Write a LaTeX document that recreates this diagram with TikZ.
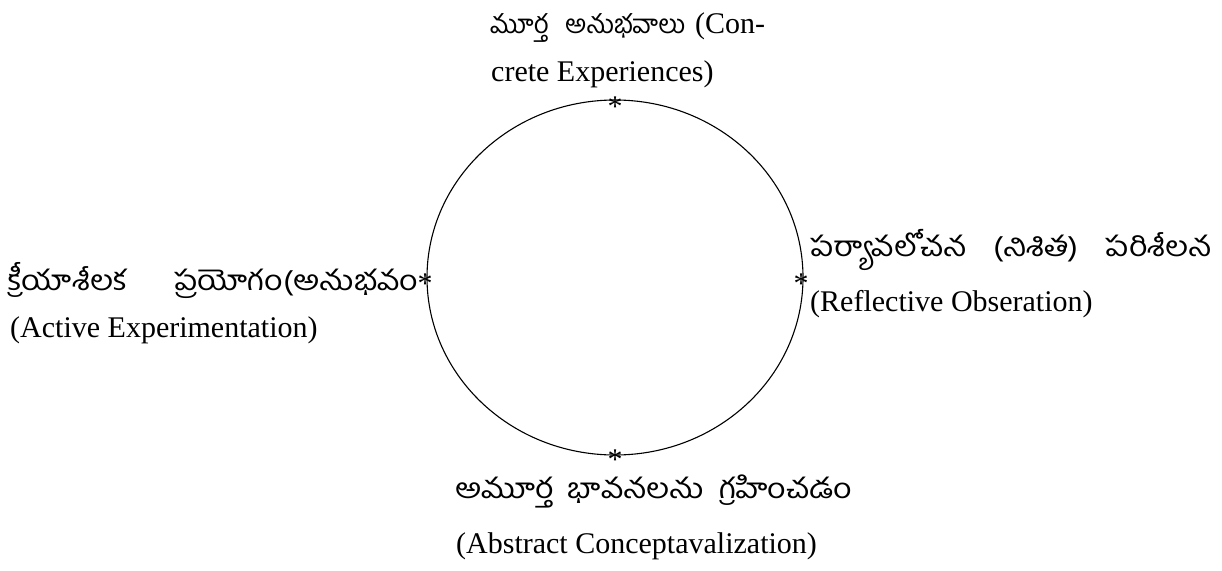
\documentclass[tikz,border=0pt]{standalone}
\usepackage{fontspec}
\setmainfont{Liberation Serif}
\newfontfamily\te[Script=Telugu]{Hind Guntur}
\newfontfamily\tew[Script=Telugu,FakeStretch=1.15]{Hind Guntur}
\begin{document}
\begin{tikzpicture}[x=1pt,y=1pt,
  lat/.style={font=\fontsize{30}{36}\selectfont, inner sep=0pt, anchor=base west},
  tel/.style={font=\fontsize{28}{34}\selectfont\tew, inner sep=0pt, anchor=base west},
  star/.style={font=\fontsize{30}{36}\selectfont, inner sep=0pt}]
\useasboundingbox (0,0) rectangle (1222,-570);
\coordinate (c) at (615,-277.5);
\draw[line width=1.1pt] (c) ellipse [x radius=188, y radius=177.5];
% asterisks on the cycle
\node[star] (sT) at (615,-107) {*};
\node[star] (sR) at (801,-284) {*};
\node[star] (sB) at (615,-460) {*};
\node[star] (sL) at (425,-284) {*};
% top label
\node[lat] (t1) at (490,-33) {\makebox[195pt][s]{\te\fontsize{26}{32}\selectfont మూర్త అనుభవాలు}\hspace{10pt}(Con-};
\node[lat] (t2) at (491,-81) {crete Experiences)};
% right label
\node[tel] (r1) at (810,-256) {\makebox[402pt][s]{పర్యావలోచన (నిశిత) పరిశీలన}};
\node[lat] (r2) at (810,-311) {(Reflective Obseration)};
% bottom label
\node[tel] (b1) at (455,-498) {\makebox[397pt][s]{అమూర్త భావనలను గ్రహించడం}};
\node[lat] (b2) at (456,-553) {(Abstract Conceptavalization)};
% left label
\node[tel] (l1) at (8,-290) {\makebox[410pt][s]{క్రీయాశీలక ప్రయోగం(అనుభవం}};
\node[lat] (l2) at (10,-337) {(Active Experimentation)};
\end{tikzpicture}
\end{document}
